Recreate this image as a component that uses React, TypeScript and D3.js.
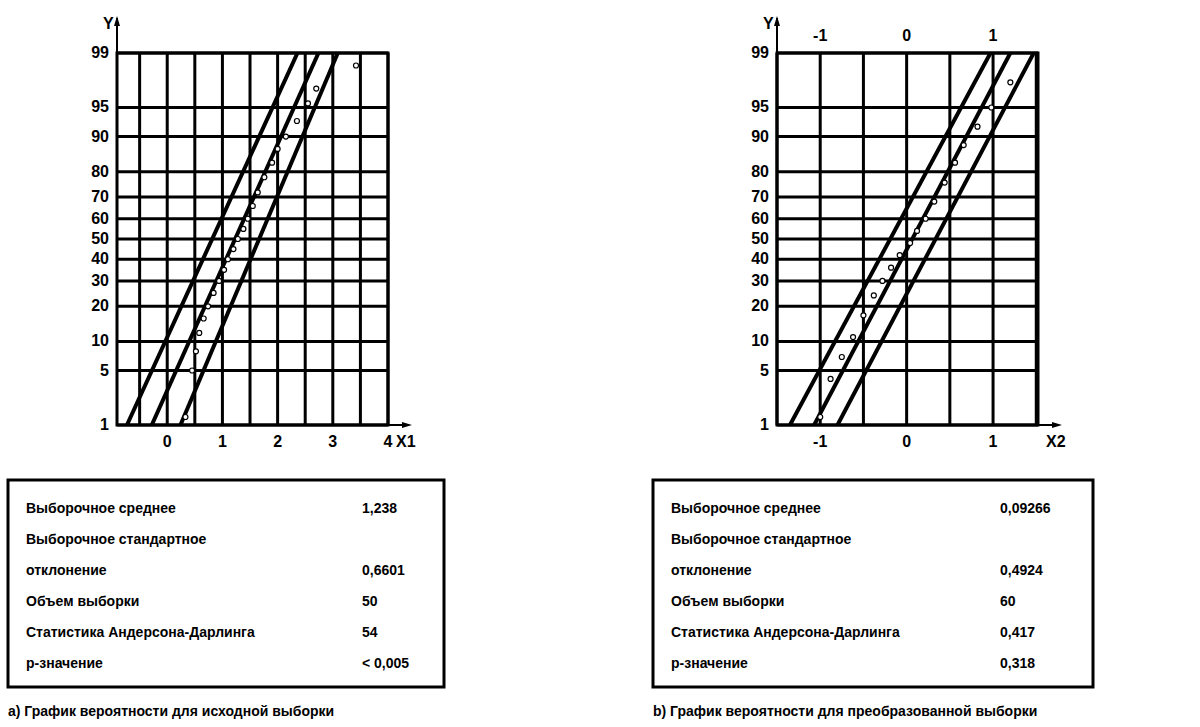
import React from "react";
import * as d3 from "d3";

const probTicks = [1, 5, 10, 20, 30, 40, 50, 60, 70, 80, 90, 95, 99];

// left chart (original sample)
const leftXTicks = [0, 1, 2, 3, 4];
const leftFit = [[-0.28, 1], [2.74, 99]];
const leftBandA = [[-0.73, 1], [2.36, 99]];
const leftBandB = [[0.24, 1], [3.09, 99]];
const leftPoints = [
  [0.33, 1.3], [0.45, 5], [0.52, 8], [0.58, 12], [0.66, 16], [0.74, 20], [0.84, 25], [0.94, 30],
  [1.03, 35], [1.1, 40], [1.2, 45], [1.28, 50], [1.38, 55], [1.46, 60], [1.55, 66], [1.64, 72],
  [1.76, 78], [1.9, 83], [2.0, 87], [2.15, 90], [2.35, 93], [2.55, 95.5], [2.7, 97], [3.42, 98.5],
];

// right chart (transformed sample)
const rightXTicks = [-1, 0, 1];
const rightFit = [[-1.07, 1], [1.2, 99]];
const rightBandA = [[-1.35, 1], [0.97, 99]];
const rightBandB = [[-0.8, 1], [1.47, 99]];
const rightPoints = [
  [-1.0, 1.3], [-0.88, 4], [-0.75, 7], [-0.62, 11], [-0.5, 17], [-0.38, 24], [-0.28, 30], [-0.18, 36],
  [-0.08, 42], [0.04, 48], [0.12, 54], [0.22, 60], [0.32, 68], [0.44, 76], [0.56, 83], [0.66, 88],
  [0.82, 92], [0.98, 95], [1.2, 97.5],
];

const rowLabels = [
  "Выборочное среднее",
  "Выборочное стандартное",
  "отклонение",
  "Объем выборки",
  "Статистика Андерсона-Дарлинга",
  "p-значение",
];
const leftValues = ["1,238", "", "0,6601", "50", "54", "< 0,005"];
const rightValues = ["0,09266", "", "0,4924", "60", "0,417", "0,318"];

// inverse standard normal (Acklam)
function probit(p: number): number {
  const a = [-39.6968302866538, 220.946098424521, -275.928510446969, 138.357751867269, -30.6647980661472, 2.50662827745924];
  const b = [-54.4760987982241, 161.585836858041, -155.698979859887, 66.8013118877197, -13.2806815528857];
  const c = [-0.00778489400243029, -0.322396458041136, -2.40075827716184, -2.54973253934373, 4.37466414146497, 2.93816398269878];
  const d = [0.00778469570904146, 0.32246712907004, 2.445134137143, 3.75440866190742];
  const pl = 0.02425;
  if (p < pl) {
    const q = Math.sqrt(-2 * Math.log(p));
    return (((((c[0] * q + c[1]) * q + c[2]) * q + c[3]) * q + c[4]) * q + c[5]) / ((((d[0] * q + d[1]) * q + d[2]) * q + d[3]) * q + 1);
  }
  if (p > 1 - pl) return -probit(1 - p);
  const q = p - 0.5, r = q * q;
  return (((((a[0] * r + a[1]) * r + a[2]) * r + a[3]) * r + a[4]) * r + a[5]) * q / (((((b[0] * r + b[1]) * r + b[2]) * r + b[3]) * r + b[4]) * r + 1);
}

const font = "'Liberation Sans', Arial, sans-serif";

interface PlotProps {
  left: number;
  right: number;
  domain: [number, number];
  gridStep: number;
  ticks: number[];
  topTicks: boolean;
  fit: number[][];
  bandA: number[][];
  bandB: number[][];
  points: number[][];
  xLabel: string;
}

const Plot = ({ left, right, domain, gridStep, ticks, topTicks, fit, bandA, bandB, points, xLabel }: PlotProps) => {
  const top = 53, bottom = 425;
  const x = d3.scaleLinear().domain(domain).range([left, right]);
  const y = d3.scaleLinear().domain([probit(0.01), probit(0.99)]).range([bottom, top]);
  const yp = (p: number) => y(probit(p / 100));
  const grid = d3.range(Math.ceil(domain[0] / gridStep) * gridStep, domain[1] + 1e-9, gridStep);
  const line = d3.line<number[]>().x((d) => x(d[0])).y((d) => yp(d[1]));
  return (
    <g fontFamily={font} fontWeight="bold" fontSize={16}>
      <defs>
        <clipPath id={`clip${left}`}>
          <rect x={left} y={top} width={right - left} height={bottom - top} />
        </clipPath>
      </defs>
      <rect x={left} y={top} width={right - left} height={bottom - top} fill="none" stroke="#000" strokeWidth={3} />
      {grid.map((g) => (
        <line key={g} x1={x(g)} x2={x(g)} y1={top} y2={bottom} stroke="#000" strokeWidth={3} />
      ))}
      {probTicks.map((p) => (
        <g key={p}>
          <line x1={left} x2={right} y1={yp(p)} y2={yp(p)} stroke="#000" strokeWidth={3} />
          <text x={left - 8} y={yp(p) + 5} textAnchor="end">{p}</text>
        </g>
      ))}
      <line x1={left} x2={left} y1={bottom} y2={18} stroke="#000" strokeWidth={2} />
      <path d={`M${left - 3},${26} L${left},${16} L${left + 3},${26} Z`} fill="#000" />
      <text x={left - 14} y={29} fontSize={16}>Y</text>
      <line x1={left} x2={right + 20} y1={bottom} y2={bottom} stroke="#000" strokeWidth={2} />
      <path d={`M${right + 14},${bottom - 3} L${right + 24},${bottom} L${right + 14},${bottom + 3} Z`} fill="#000" />
      <text x={right + 8} y={bottom + 22} fontSize={16}>{xLabel}</text>
      {ticks.map((t) => (
        <text key={t} x={x(t)} y={bottom + 22} textAnchor="middle">{t}</text>
      ))}
      {topTicks && ticks.map((t) => (
        <text key={`t${t}`} x={x(t)} y={top - 12} textAnchor="middle">{t}</text>
      ))}
      <g clipPath={`url(#clip${left})`} fill="none" stroke="#000" strokeWidth={4}>
        <path d={line(fit) || ""} />
        <path d={line(bandA) || ""} />
        <path d={line(bandB) || ""} />
      </g>
      {points.map((p, i) => (
        <circle key={i} cx={x(p[0])} cy={yp(p[1])} r={2.5} fill="#fff" stroke="#000" strokeWidth={1.2} />
      ))}
    </g>
  );
};

const Table = ({ x0, x1, valueX, values, caption }: { x0: number; x1: number; valueX: number; values: string[]; caption: string }) => (
  <g fontFamily={font} fontWeight="bold" fontSize={14}>
    <rect x={x0} y={480} width={x1 - x0} height={207} fill="#fff" stroke="#000" strokeWidth={3} />
    {rowLabels.map((l, i) => (
      <g key={i}>
        <text x={x0 + 18} y={513 + i * 31}>{l}</text>
        <text x={valueX} y={513 + i * 31}>{values[i]}</text>
      </g>
    ))}
    <text x={x0} y={716}>{caption}</text>
  </g>
);

export default function App() {
  return (
    <svg width={1200} height={727} style={{ position: "absolute", left: 0, top: 0, background: "#fff" }}>
      <rect width={1200} height={727} fill="#fff" />
      <Plot left={117} right={388} domain={[-0.91, 4]} gridStep={0.5} ticks={leftXTicks} topTicks={false}
        fit={leftFit} bandA={leftBandA} bandB={leftBandB} points={leftPoints} xLabel="X1" />
      <Plot left={777} right={1038} domain={[-1.5, 1.52]} gridStep={0.5} ticks={rightXTicks} topTicks={true}
        fit={rightFit} bandA={rightBandA} bandB={rightBandB} points={rightPoints} xLabel="X2" />
      <Table x0={8} x1={444} valueX={362} values={leftValues} caption="а) График вероятности для исходной выборки" />
      <Table x0={653} x1={1093} valueX={1000} values={rightValues} caption="b) График вероятности для преобразованной выборки" />
    </svg>
  );
}
